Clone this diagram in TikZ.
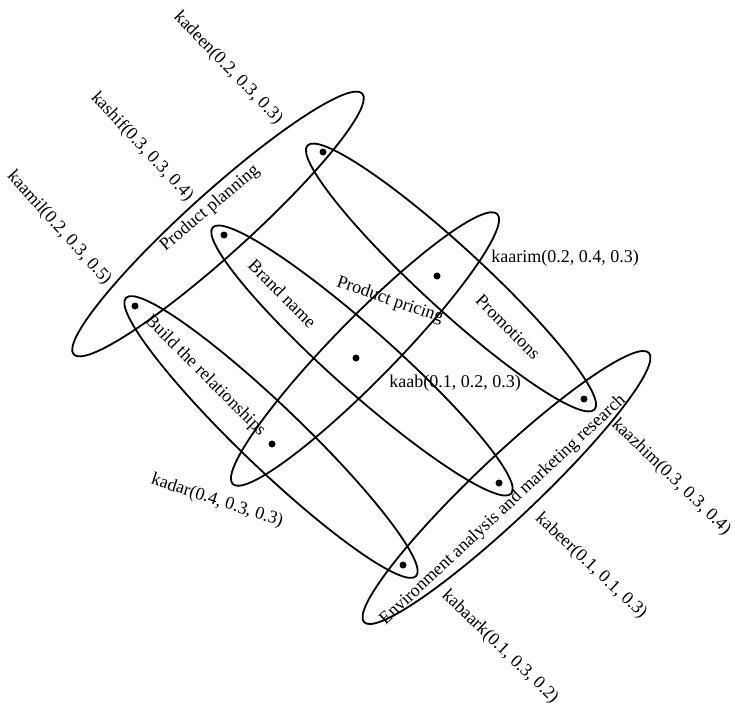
\documentclass[tikz,border=0pt]{standalone}
\usepackage{fontspec}
\setmainfont{Liberation Serif}
\usetikzlibrary{shapes.geometric}

\begin{document}
\begin{tikzpicture}[
    x=1pt, y=1pt,
    font=\fontsize{18}{21}\selectfont,
    hyperedge/.style={ellipse, draw=black, line width=1.8pt, inner sep=0pt, minimum height=62pt},
    vertex/.style={circle, fill=black, inner sep=0pt, minimum size=7pt},
    vlabel/.style={text=black, inner sep=0pt},
    elabel/.style={text=black, inner sep=0pt}
]
\useasboundingbox (0,0) rectangle (735,-707);

\node[hyperedge, minimum width=389pt, rotate=42.1] (planning) at (218,-224) {};
\node[hyperedge, minimum width=378pt, rotate=45.6] (pricing) at (365,-349) {};
\node[hyperedge, minimum width=392pt, rotate=43.4] (environment) at (506.5,-487.5) {};
\node[hyperedge, minimum width=402pt, rotate=-43.8] (relationships) at (271,-437) {};
\node[hyperedge, minimum width=400pt, rotate=-41.7] (brand) at (362,-360.5) {};
\node[hyperedge, minimum width=390pt, rotate=-42.6] (promotions) at (451,-277.5) {};

\node[elabel, rotate=40] at (210,-208.5) {Product planning};
\node[elabel, rotate=-19] at (390,-300.5) {Product pricing};
\node[elabel, rotate=43] at (503,-510) {Environment analysis and marketing research};
\node[elabel, rotate=-45] at (205,-376) {Build the relationships};
\node[elabel, rotate=-45] at (282.5,-293.5) {Brand name};
\node[elabel, rotate=-45] at (508,-327) {Promotions};

\node[vertex] (kadeen) at (323,-152) {};
\node[vertex] (kashif) at (224,-235) {};
\node[vertex] (kaamil) at (135,-306) {};
\node[vertex] (kaarim) at (437,-276) {};
\node[vertex] (kaab) at (356,-358) {};
\node[vertex] (kadar) at (272,-444) {};
\node[vertex] (kaazhim) at (584,-399) {};
\node[vertex] (kabeer) at (499,-483) {};
\node[vertex] (kabaark) at (403,-565) {};

\node[vlabel, rotate=-46] at (228,-68) {kadeen(0.2, 0.3, 0.3)};
\node[vlabel, rotate=-47] at (142,-147) {kashif(0.3, 0.3, 0.4)};
\node[vlabel, rotate=-48] at (59,-228) {kaamil(0.2, 0.3, 0.5)};
\node[vlabel] at (565,-258) {kaarim(0.2, 0.4, 0.3)};
\node[vlabel] at (455,-383) {kaab(0.1, 0.2, 0.3)};
\node[vlabel, rotate=-18] at (217,-501) {kadar(0.4, 0.3, 0.3)};
\node[vlabel, rotate=-44] at (671,-477) {kaazhim(0.3, 0.3, 0.4)};
\node[vlabel, rotate=-43] at (591,-566) {kabeer(0.1, 0.1, 0.3)};
\node[vlabel, rotate=-44] at (500,-647) {kabaark(0.1, 0.3, 0.2)};
\end{tikzpicture}
\end{document}
